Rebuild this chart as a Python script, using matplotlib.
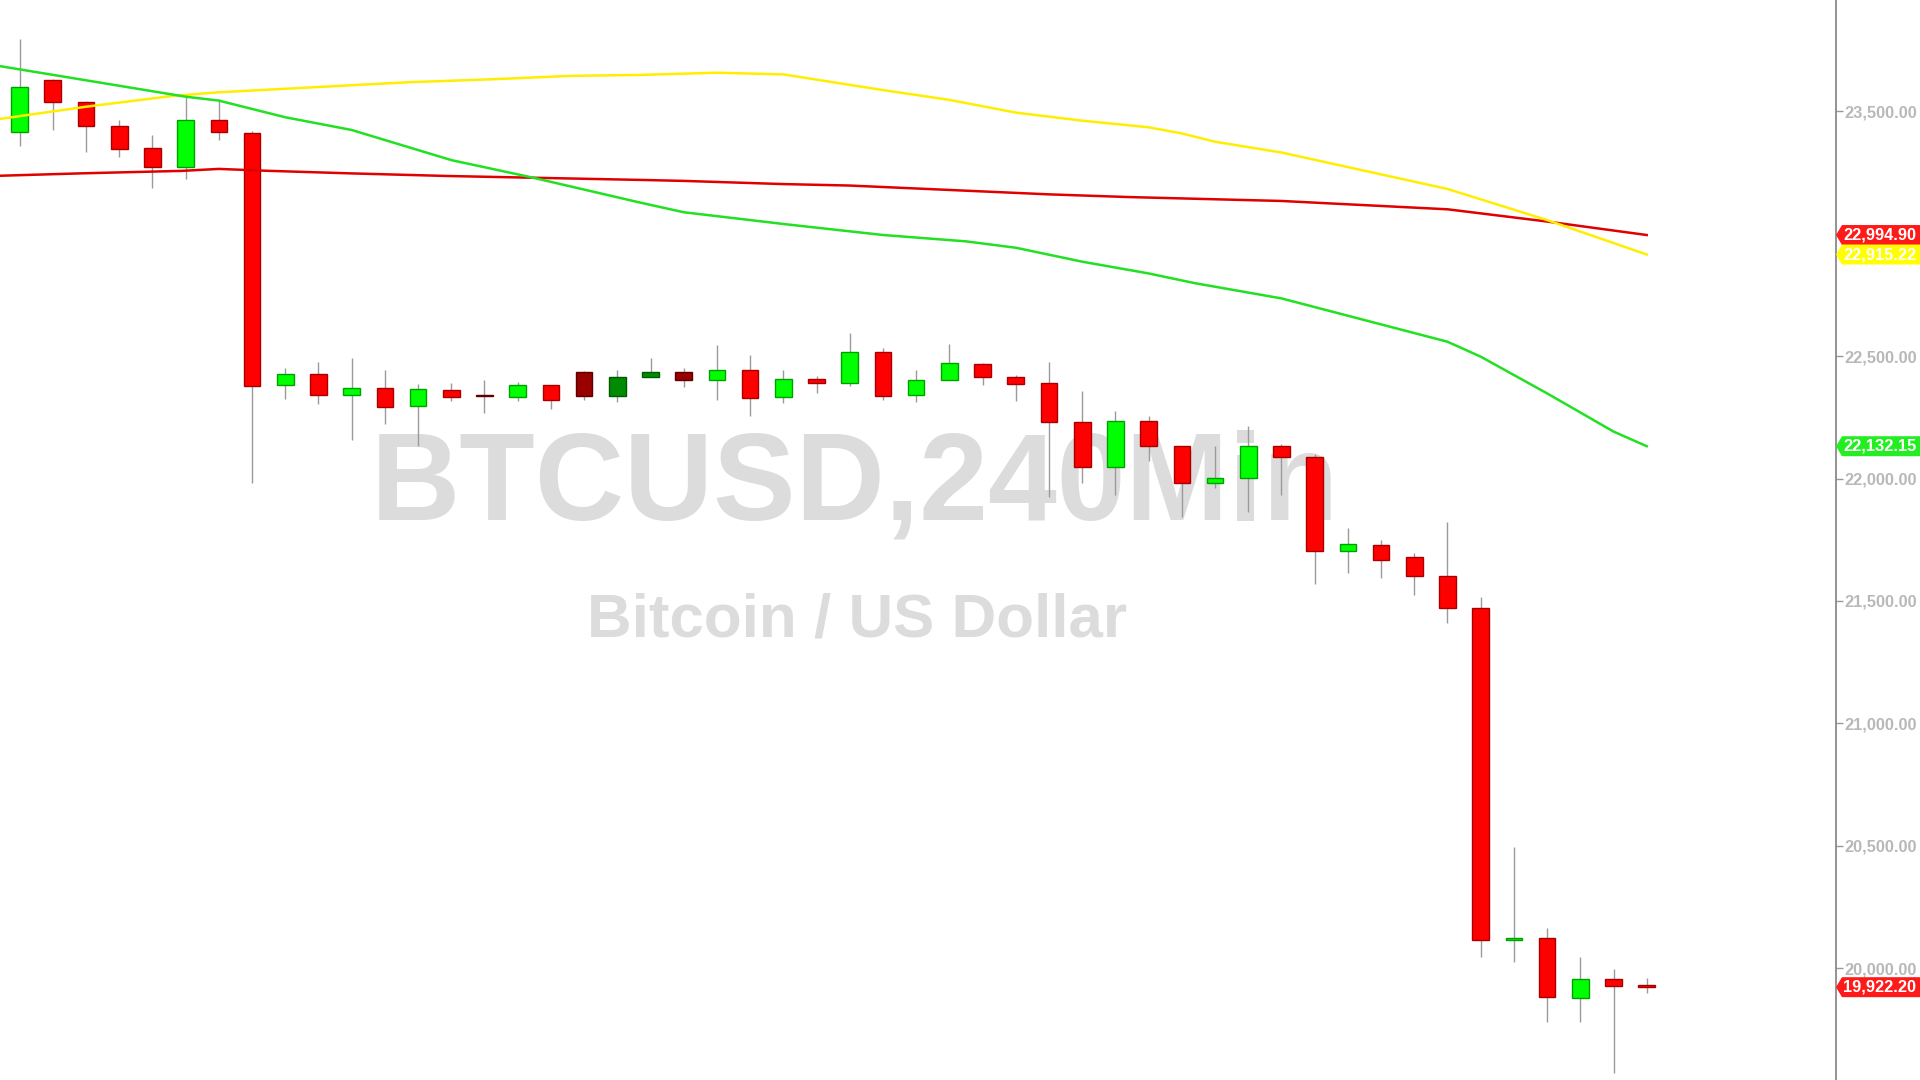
import matplotlib
matplotlib.use("Agg")
import matplotlib.pyplot as plt
from matplotlib import font_manager as fm
from matplotlib.patches import Polygon
from matplotlib.ticker import FuncFormatter, MultipleLocator

# BTCUSD 4h candles, oldest first
opens = [23415, 23627, 23537, 23442, 23349, 23274, 23464, 23412, 22381, 22427,
         22340, 22371, 22295, 22363, 22342, 22335, 22382, 22437, 22338, 22413,
         22437, 22402, 22443, 22335, 22407, 22390, 22516, 22343, 22402, 22469,
         22414, 22392, 22230, 22047, 22235, 22134, 21981, 22004, 22134, 22090,
         21706, 21728, 21678, 21602, 21471, 20116, 20123, 19877, 19954, 19932]
highs = [23796, 23634, 23543, 23465, 23404, 23557, 23551, 23420, 22450, 22475,
         22491, 22443, 22387, 22391, 22403, 22394, 22382, 22441, 22444, 22492,
         22451, 22546, 22505, 22443, 22417, 22594, 22533, 22443, 22550, 22474,
         22424, 22475, 22358, 22277, 22254, 22134, 22134, 22216, 22142, 22101,
         21798, 21750, 21694, 21823, 21517, 20493, 20165, 20047, 19995, 19959]
lows = [23360, 23423, 23336, 23312, 23188, 23225, 23382, 21981, 22327, 22306,
        22159, 22222, 22133, 22316, 22267, 22318, 22285, 22319, 22311, 22413,
        22372, 22322, 22254, 22307, 22349, 22380, 22319, 22311, 22402, 22384,
        22318, 21924, 21981, 21934, 22073, 21843, 21961, 21864, 21931, 21570,
        21614, 21592, 21525, 21408, 20047, 20024, 19779, 19779, 19570, 19900]
closes = [23598, 23537, 23442, 23347, 23274, 23464, 23415, 22377, 22427, 22340,
          22371, 22294, 22365, 22332, 22336, 22383, 22319, 22338, 22414, 22437,
          22403, 22443, 22331, 22406, 22392, 22516, 22339, 22403, 22471, 22413,
          22388, 22232, 22049, 22235, 22135, 21981, 22003, 22134, 22090, 21705,
          21732, 21668, 21601, 21471, 20116, 20123, 19884, 19954, 19928, 19922.2]
# candles painted in the darker shade
dark = [14, 17, 18, 19, 20]

# moving averages (vertex bar index, value)
yellow_x = [-0.6, 2, 4.6, 6, 9.2, 11.7, 14.2, 16.6, 18.7, 21, 23, 26, 28, 30,
            32, 34, 35, 36, 38, 43, 46, 49]
yellow_v = [23469, 23519, 23563, 23578, 23601, 23619, 23631, 23645, 23649, 23658,
            23651, 23587, 23547, 23495, 23462, 23435, 23410, 23376, 23332, 23183,
            23056, 22915.22]
red_x = [-0.6, 1.9, 4.9, 6, 7.3, 9.9, 12.9, 18.7, 20, 23, 25, 28.5, 31, 33.4,
         38, 43, 46, 49]
red_v = [23237, 23247, 23257, 23265, 23258, 23247, 23236, 23220, 23216, 23203,
         23197, 23176, 23161, 23150, 23134, 23100, 23050, 22994.90]
green_x = [-0.6, 5, 6, 8, 10, 13, 15.4, 18.7, 20, 23, 26, 28.5, 30, 32, 34,
           35.4, 38, 43, 44, 46, 48, 49]
green_v = [23685, 23560, 23544, 23476, 23424, 23301, 23231, 23127, 23088, 23040,
           22995, 22969, 22943, 22886, 22838, 22798, 22736, 22559, 22498, 22348,
           22192, 22132.15]

last_price = 19922.20
symbol = "BTCUSD,240Min"
description = "Bitcoin / US Dollar"


def pick_font(names):
    for name in names:
        try:
            fm.findfont(fm.FontProperties(family=name), fallback_to_default=False)
            return name
        except ValueError:
            pass
    return "DejaVu Sans"


font = pick_font(["Liberation Sans Narrow", "Liberation Sans", "Arial"])
narrow = font == "Liberation Sans Narrow"
k = 1.0 if narrow else 0.84
plt.rcParams["font.family"] = [font, "DejaVu Sans"]
plt.rcParams["font.weight"] = "bold"

W, H = 1920, 1080
axis_px = 1836
ylim = (19543, 23955)
ppx = (ylim[1] - ylim[0]) / H  # price per pixel

fig = plt.figure(figsize=(19.2, 10.8), dpi=100)
fig.patch.set_facecolor("white")
ax = fig.add_axes([0, 0, axis_px / W, 1])
ax.set_xlim(-0.59, 54.7)
ax.set_ylim(*ylim)

# watermark
ax.text(855 / W, 1 - 519 / H, symbol, transform=fig.transFigure, ha="center",
        va="baseline", fontsize=106 * k, color="#dcdcdc", zorder=0)
ax.text(857 / W, 1 - 637 / H, description, transform=fig.transFigure, ha="center",
        va="baseline", fontsize=53 * k, color="#dcdcdc", zorder=0)

# candles
xs = list(range(len(opens)))
faces, edges, bottoms, heights = [], [], [], []
for i in xs:
    o, c = opens[i], closes[i]
    up = c >= o
    if i in dark:
        faces.append("#008c00" if up else "#990000")
        edges.append("#005a00" if up else "#5e0000")
    else:
        faces.append("#00ff00" if up else "#ff0000")
        edges.append("#00a000" if up else "#a80000")
    bottoms.append(min(o, c))
    heights.append(abs(c - o))

ax.vlines(xs, lows, highs, color="#9a9a9a", linewidth=1, zorder=1)
ax.bar(xs, heights, bottom=bottoms, width=0.5, color=faces, edgecolor=edges,
       linewidth=1, zorder=2)

# moving averages
ax.plot(red_x, red_v, color="#e00000", linewidth=1.8, zorder=3)
ax.plot(yellow_x, yellow_v, color="#ffee00", linewidth=1.8, zorder=3)
ax.plot(green_x, green_v, color="#22e022", linewidth=1.8, zorder=3)

# price axis on the right
lab_size = 11.8 if not narrow else 13.5
for s in ["top", "left", "bottom"]:
    ax.spines[s].set_visible(False)
ax.spines["right"].set_color("#808080")
ax.spines["right"].set_linewidth(1.2)
ax.set_xticks([])
ax.yaxis.tick_right()
ax.yaxis.set_major_locator(MultipleLocator(500))
ax.yaxis.set_major_formatter(FuncFormatter(lambda v, p: f"{v:,.2f}"))
ax.tick_params(axis="y", direction="out", length=5, width=1, color="#999999",
               labelcolor="#b8b8b8", labelsize=lab_size, pad=1)

# value tags
tag_ax = fig.add_axes([axis_px / W, 0, (W - axis_px) / W, 1])
tag_ax.set_xlim(0, W - axis_px)
tag_ax.set_ylim(*ylim)
tag_ax.axis("off")
half = 10 * ppx
tags = [(red_v[-1], "#ff1a1a"), (yellow_v[-1], "#ffff00"),
        (green_v[-1], "#22ee22"), (last_price, "#ff1a1a")]
for v, col in tags:
    tag_ax.add_patch(Polygon([(0, v), (6, v + half), (W - axis_px, v + half),
                              (W - axis_px, v - half), (6, v - half)],
                             closed=True, facecolor=col, edgecolor="none"))
    tag_ax.text(7, v, f"{v:,.2f}", ha="left", va="center", color="white",
                fontsize=lab_size)

fig.savefig("out.png", dpi=100)
